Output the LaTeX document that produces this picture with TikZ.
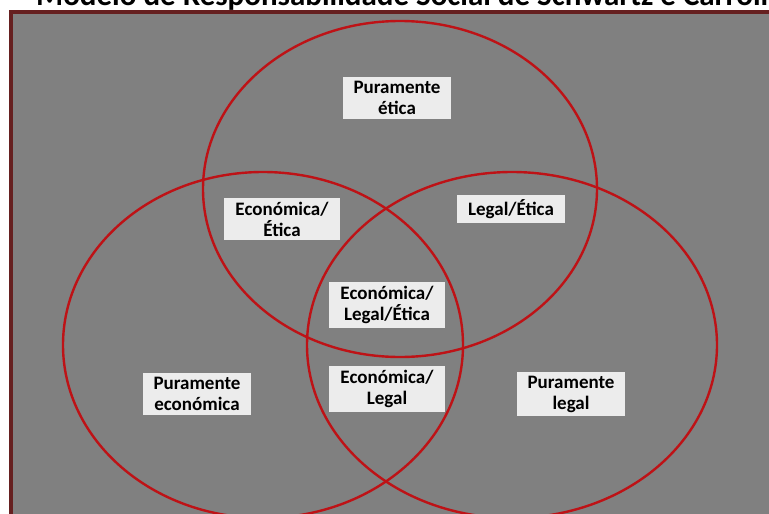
\documentclass[tikz,border=0pt]{standalone}
\usepackage{fontspec}
\setmainfont{Carlito}
\usepackage{xcolor}
\usepackage{tikz}
\definecolor{vennred}{RGB}{190,18,22}
\definecolor{framebrown}{RGB}{102,32,32}
\definecolor{panelgray}{RGB}{128,128,128}
\definecolor{labelwhite}{RGB}{236,236,236}
\tikzset{
  area/.style={fill=labelwhite, inner xsep=11pt, inner ysep=4pt, align=center,
               font=\bfseries\fontsize{19}{21}\selectfont},
  ring/.style={draw=vennred, line width=2.4pt}
}

\begin{document}
\begin{tikzpicture}[x=1pt,y=-1pt]
        \useasboundingbox (0,0) rectangle (769,514);
        \clip (0,0) rectangle (769,514);

        % Slide title (cut off at the top)
        \node[anchor=base west, inner sep=0, font=\bfseries\fontsize{31}{34}\selectfont] (title) at (36,5.5) {Modelo de Responsabilidade Social de Schwartz e Carroll};

        % Gray panel with dark frame
        \draw[framebrown, line width=4.5pt, fill=panelgray] (11.2,12.2) rectangle (800,540);

        % Three domains: etica (top), economica (left), legal (right)
        \draw[ring] (400,189) ellipse [x radius=197, y radius=168];
        \draw[ring] (263,345) ellipse [x radius=200, y radius=173];
        \draw[ring] (512,345) ellipse [x radius=205, y radius=173];

        % Region labels
        \node[area] (etica) at (397,98) {Puramente\\ética};
        \node[area] (ecoEtica) at (282,219) {Económica/\\Ética};
        \node[area] (legEtica) at (511,209) {Legal/Ética};
        \node[area] (todas) at (387,305) {Económica/\\Legal/Ética};
        \node[area] (ecoLegal) at (387,389) {Económica/\\Legal};
        \node[area] (economica) at (197,394) {Puramente\\económica};
        \node[area] (legal) at (571,394) {Puramente\\legal};

    \end{tikzpicture}
\end{document}
